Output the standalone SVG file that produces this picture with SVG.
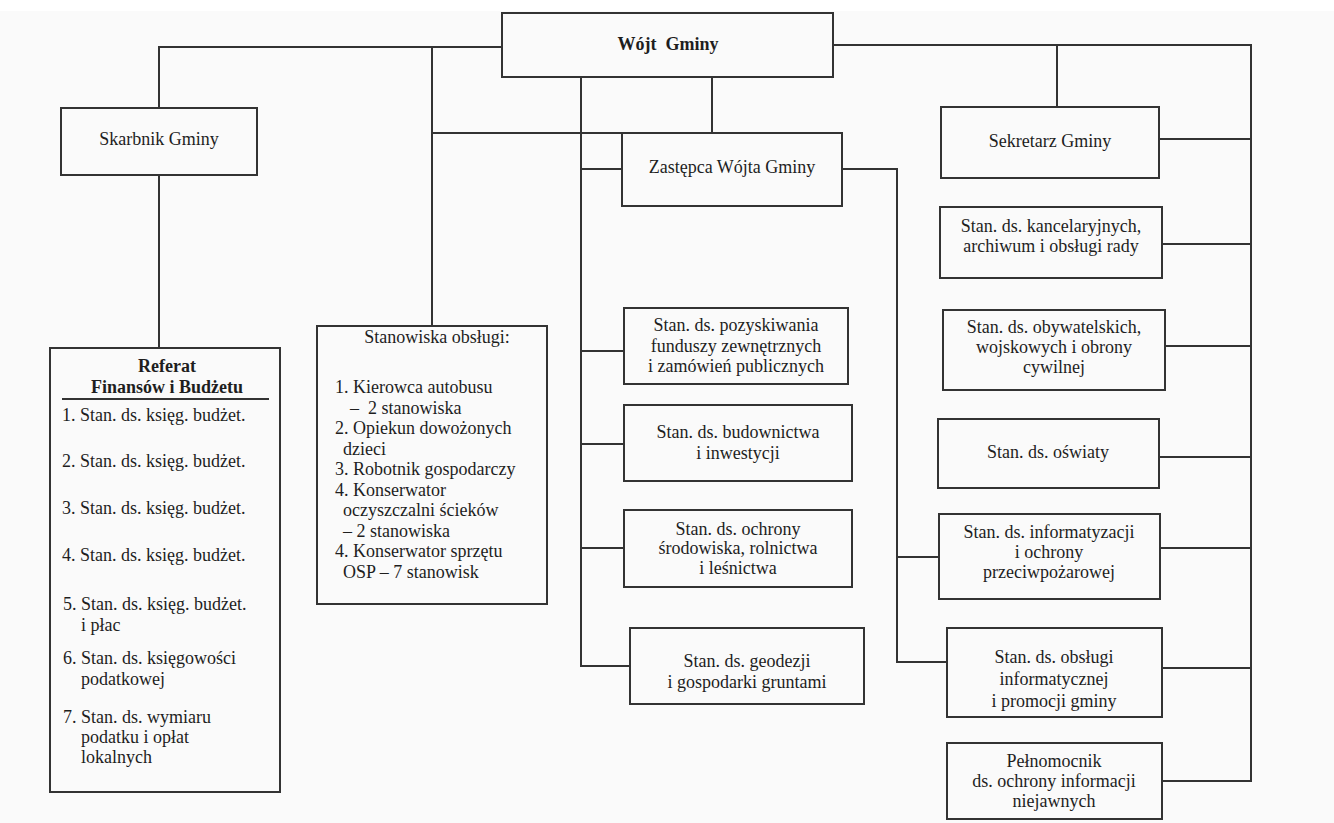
<svg xmlns="http://www.w3.org/2000/svg" width="1334" height="823" viewBox="0 0 1334 823">
<style>
.bx{fill:none;stroke:#333;stroke-width:2}
.ln{fill:none;stroke:#333;stroke-width:2}
text{font-family:"Liberation Serif","Times New Roman",serif;font-size:18px;fill:#1e1e1e}
.c{text-anchor:middle}
.b{font-weight:bold}
</style>
<rect x="0" y="0" width="1334" height="823" fill="#fafafa"/>
<rect x="0" y="0" width="1334" height="11" fill="#ffffff"/>
<g id="connectors">
<path class="ln" d="M502,47 H159 V108"/>
<path class="ln" d="M159,175 V348"/>
<path class="ln" d="M432,47 V326"/>
<path class="ln" d="M432,133 H622"/>
<path class="ln" d="M712,77 V133"/>
<path class="ln" d="M581,77 V666 H630"/>
<path class="ln" d="M581,169 H622 M581,351 H624 M581,444 H624 M581,548 H624"/>
<path class="ln" d="M842,169 H897 V662 H947 M897,557 H939"/>
<path class="ln" d="M833,45 H1251 V781 H1162 M1057,45 V107"/>
<path class="ln" d="M1159,139 H1251 M1162,244 H1251 M1165,346 H1251 M1159,457 H1251 M1160,548 H1251 M1162,668 H1251"/>
</g>
<g id="wojt"><rect class="bx" x="502" y="13" width="331" height="64"/><text class="c b" x="668" y="50" xml:space="preserve">Wójt  Gminy</text></g>
<g id="skarbnik"><rect class="bx" x="61" y="108" width="196" height="67"/><text class="c" x="159" y="145">Skarbnik Gminy</text></g>
<g id="zastepca"><rect class="bx" x="622" y="133" width="220" height="73"/><text class="c" x="732" y="173">Zastępca Wójta Gminy</text></g>
<g id="sekretarz"><rect class="bx" x="941" y="107" width="218" height="71"/><text class="c" x="1050" y="147">Sekretarz Gminy</text></g>
<g id="referat"><rect class="bx" x="50" y="348" width="230" height="444"/>
<text class="c b" x="167" y="372">Referat</text>
<text class="c b" x="167" y="393">Finansów i Budżetu</text>
<path class="ln" d="M62,399 H269"/>
<text x="62" y="421">1. Stan. ds. księg. budżet.</text>
<text x="62" y="467">2. Stan. ds. księg. budżet.</text>
<text x="62" y="514">3. Stan. ds. księg. budżet.</text>
<text x="62" y="561">4. Stan. ds. księg. budżet.</text>
<text x="63" y="610">5. Stan. ds. księg. budżet.</text>
<text x="81" y="631">i płac</text>
<text x="63" y="664">6. Stan. ds. księgowości</text>
<text x="81" y="685">podatkowej</text>
<text x="63" y="723">7. Stan. ds. wymiaru</text>
<text x="81" y="743">podatku i opłat</text>
<text x="81" y="763">lokalnych</text>
</g>
<g id="stanowiska"><rect class="bx" x="317" y="326" width="230" height="278"/>
<text class="c" x="437" y="343">Stanowiska obsługi:</text>
<text x="335" y="393">1. Kierowca autobusu</text>
<text x="350" y="414" xml:space="preserve">–  2 stanowiska</text>
<text x="335" y="434">2. Opiekun dowożonych</text>
<text x="343" y="455">dzieci</text>
<text x="335" y="475">3. Robotnik gospodarczy</text>
<text x="335" y="496">4. Konserwator</text>
<text x="343" y="516">oczyszczalni ścieków</text>
<text x="343" y="537">– 2 stanowiska</text>
<text x="335" y="557">4. Konserwator sprzętu</text>
<text x="343" y="578">OSP – 7 stanowisk</text>
</g>
<g id="pozyskiwania"><rect class="bx" x="624" y="308" width="224" height="76"/>
<text class="c" x="736" y="331">Stan. ds. pozyskiwania</text>
<text class="c" x="736" y="352">funduszy zewnętrznych</text>
<text class="c" x="736" y="372">i zamówień publicznych</text></g>
<g id="budownictwa"><rect class="bx" x="624" y="405" width="228" height="76"/>
<text class="c" x="738" y="438">Stan. ds. budownictwa</text>
<text class="c" x="738" y="459">i inwestycji</text></g>
<g id="ochrony"><rect class="bx" x="624" y="510" width="228" height="77"/>
<text class="c" x="738" y="535">Stan. ds. ochrony</text>
<text class="c" x="738" y="554">środowiska, rolnictwa</text>
<text class="c" x="738" y="574">i leśnictwa</text></g>
<g id="geodezji"><rect class="bx" x="630" y="628" width="234" height="76"/>
<text class="c" x="747" y="667">Stan. ds. geodezji</text>
<text class="c" x="747" y="688">i gospodarki gruntami</text></g>
<g id="kancelaryjnych"><rect class="bx" x="940" y="207" width="222" height="71"/>
<text class="c" x="1051" y="232">Stan. ds. kancelaryjnych,</text>
<text class="c" x="1051" y="252">archiwum i obsługi rady</text></g>
<g id="obywatelskich"><rect class="bx" x="943" y="310" width="222" height="80"/>
<text class="c" x="1054" y="333">Stan. ds. obywatelskich,</text>
<text class="c" x="1054" y="353">wojskowych i obrony</text>
<text class="c" x="1054" y="373">cywilnej</text></g>
<g id="oswiaty"><rect class="bx" x="938" y="419" width="221" height="69"/>
<text class="c" x="1048" y="458">Stan. ds. oświaty</text></g>
<g id="informatyzacji"><rect class="bx" x="939" y="514" width="221" height="85"/>
<text class="c" x="1049" y="538">Stan. ds. informatyzacji</text>
<text class="c" x="1049" y="558">i ochrony</text>
<text class="c" x="1049" y="578">przeciwpożarowej</text></g>
<g id="obslugi"><rect class="bx" x="947" y="628" width="215" height="89"/>
<text class="c" x="1054" y="663">Stan. ds. obsługi</text>
<text class="c" x="1054" y="685">informatycznej</text>
<text class="c" x="1054" y="707">i promocji gminy</text></g>
<g id="pelnomocnik"><rect class="bx" x="947" y="743" width="215" height="76"/>
<text class="c" x="1054" y="767">Pełnomocnik</text>
<text class="c" x="1054" y="787">ds. ochrony informacji</text>
<text class="c" x="1054" y="807">niejawnych</text></g>
</svg>
